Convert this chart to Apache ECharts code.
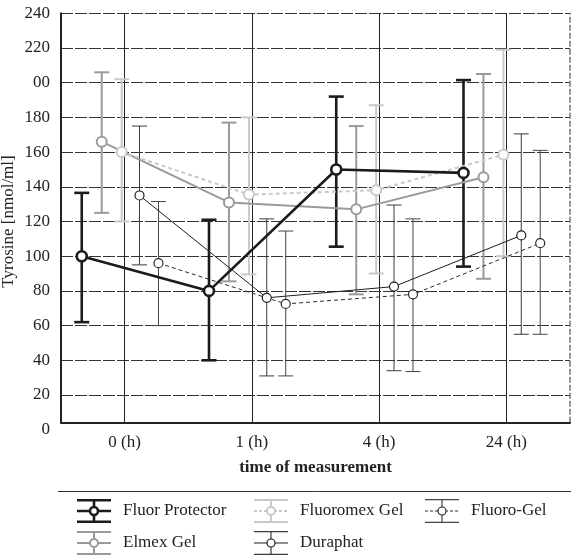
<!DOCTYPE html>
<html>
<head>
<meta charset="utf-8">
<script src="https://cdn.jsdelivr.net/npm/echarts@6/dist/echarts.min.js"></script>
<style>
  html, body { margin: 0; padding: 0; background: #fff; }
  #chart { width: 571px; height: 557px; }
</style>
</head>
<body>
<div id="chart"></div>
<script>
const categories = ["0 (h)", "1 (h)", "4 (h)", "24 (h)"];
const yTickLabels = ["0", "20", "40", "60", "80", "100", "120", "140", "160", "180", "00", "220", "240"];

const seriesNames = ["Fluor Protector", "Elmex Gel", "Fluoromex Gel", "Duraphat", "Fluoro-Gel"];

const fluorProtectorMean = [100, 80, 150, 148];
const fluorProtectorLow = [62, 40, 105.5, 94];
const fluorProtectorHigh = [136.5, 121, 192, 201.5];

const elmexMean = [166, 131, 127, 145.5];
const elmexLow = [125, 85.5, 78, 87];
const elmexHigh = [206, 177, 175, 205];

const fluoromexMean = [160, 135.5, 138, 158.5];
const fluoromexLow = [120, 89.5, 90, 100];
const fluoromexHigh = [202, 180, 187, 219];

const duraphatMean = [135, 76, 82.5, 112];
const duraphatLow = [95, 31, 34, 55];
const duraphatHigh = [175, 121.5, 129.5, 170.5];

const fluoroGelMean = [96, 72.5, 78, 107.5];
const fluoroGelLow = [60, 31, 33.5, 55];
const fluoroGelHigh = [131.5, 114.5, 121.5, 161];

// horizontal dodge of each series inside a category band (band units)
const dodge = [-0.337, -0.18, -0.023, 0.117, 0.266];

const styles = [
    { color: "#1b1b1b", bar: "#1b1b1b", width: 2.6, dashed: false, size: 10 },
    { color: "#9a9a9a", bar: "#9a9a9a", width: 2, dashed: false, size: 10 },
    { color: "#c9c9c9", bar: "#c9c9c9", width: 2, dashed: true, size: 10 },
    { color: "#1e1e1e", bar: "#3a3a3a", width: 1, dashed: false, size: 9 },
    { color: "#2a2a2a", bar: "#444444", width: 1, dashed: true, size: 9 },
];

const means = [fluorProtectorMean, elmexMean, fluoromexMean, duraphatMean, fluoroGelMean];
const lows = [fluorProtectorLow, elmexLow, fluoromexLow, duraphatLow, fluoroGelLow];
const highs = [fluorProtectorHigh, elmexHigh, fluoromexHigh, duraphatHigh, fluoroGelHigh];

const serif = "Liberation Serif";
const fontSize = 17;

function legendIcon(st) {
    const w = Math.max(st.width, 1.2);
    const dash = st.dashed ? ' stroke-dasharray="3,2"' : "";
    const svg =
        '<svg xmlns="http://www.w3.org/2000/svg" width="41" height="24" viewBox="0 0 41 24">' +
        '<g stroke="' + st.bar + '" stroke-width="' + w + '" fill="none">' +
        '<line x1="0" y1="' + (w / 2) + '" x2="34" y2="' + (w / 2) + '"/>' +
        '<line x1="0" y1="' + (24 - w / 2) + '" x2="34" y2="' + (24 - w / 2) + '"/>' +
        '<line x1="17" y1="0" x2="17" y2="24"/>' +
        '</g>' +
        '<line x1="0" y1="12" x2="34" y2="12" stroke="' + st.color + '" stroke-width="' + w + '"' + dash + '/>' +
        '<circle cx="17" cy="12" r="4" fill="#fff" stroke="' + st.color + '" stroke-width="' + w + '"/>' +
        '</svg>';
    return "image://data:image/svg+xml;charset=utf-8," + encodeURIComponent(svg);
}

function errorBars(st) {
    const cap = 7.5;
    return function (params, api) {
        const x = api.value(0);
        const lo = api.coord([x, api.value(1)]);
        const hi = api.coord([x, api.value(2)]);
        const style = { stroke: st.bar, lineWidth: st.width, fill: null };
        return {
            type: "group",
            children: [
                { type: "line", shape: { x1: lo[0], y1: lo[1], x2: hi[0], y2: hi[1] }, style },
                { type: "line", shape: { x1: hi[0] - cap, y1: hi[1], x2: hi[0] + cap, y2: hi[1] }, style },
                { type: "line", shape: { x1: lo[0] - cap, y1: lo[1], x2: lo[0] + cap, y2: lo[1] }, style },
            ],
        };
    };
}

const series = [];
seriesNames.forEach((name, s) => {
    const st = styles[s];
    series.push({
        name,
        type: "custom",
        xAxisIndex: 0,
        yAxisIndex: 0,
        z: 2,
        silent: true,
        renderItem: errorBars(st),
        data: categories.map((c, i) => [i + dodge[s], lows[s][i], highs[s][i]]),
    });
    series.push({
        name,
        type: "line",
        xAxisIndex: 0,
        yAxisIndex: 0,
        z: 3 + (s === 0 ? 2 : 0),
        symbol: "circle",
        symbolSize: st.size,
        showAllSymbol: true,
        lineStyle: { color: st.color, width: st.width, type: st.dashed ? [4, 3] : "solid" },
        itemStyle: { color: "#ffffff", borderColor: st.color, borderWidth: Math.max(st.width, 1.2) },
        emphasis: { disabled: true },
        data: categories.map((c, i) => [i + dodge[s], means[s][i]]),
    });
});

const legendBase = {
    orient: "vertical",
    top: 499,
    padding: 0,
    itemGap: 8,
    itemWidth: 41,
    itemHeight: 24,
    selectedMode: false,
    textStyle: { fontFamily: serif, fontSize: fontSize, color: "#222" },
};
const legendItem = (name) => ({ name, icon: legendIcon(styles[seriesNames.indexOf(name)]) });

const chart = echarts.init(document.getElementById("chart"));
chart.setOption({
    animation: false,
    backgroundColor: "#fff",
    grid: [
        { left: 61, right: 1, top: 13.3, bottom: 127.3, outerBoundsMode: "none", containLabel: false },
        { left: 61, right: 1, top: 13.3, bottom: 134.7, outerBoundsMode: "none", containLabel: false },
    ],
    legend: [
        Object.assign({}, legendBase, { left: 77, data: ["Fluor Protector", "Elmex Gel"].map(legendItem) }),
        Object.assign({}, legendBase, { left: 254, data: ["Fluoromex Gel", "Duraphat"].map(legendItem) }),
        Object.assign({}, legendBase, { left: 425, data: ["Fluoro-Gel"].map(legendItem) }),
    ],
    xAxis: [
        { type: "value", gridIndex: 0, min: -0.5, max: 3.5, show: false },
        {
            type: "category",
            gridIndex: 1,
            position: "bottom",
            data: categories,
            axisLine: { lineStyle: { color: "#222", width: 2 } },
            axisTick: { show: false },
            axisLabel: { fontFamily: serif, fontSize: fontSize, color: "#222", margin: 12 },
            splitLine: { show: true, alignWithLabel: true, interval: 0, lineStyle: { color: "#222", width: 1 } },
            name: "time of measurement",
            nameLocation: "middle",
            nameGap: 36.5,
            nameMoveOverlap: false,
            nameTextStyle: { fontFamily: serif, fontSize: fontSize, fontWeight: "bold", color: "#222" },
        },
        {
            type: "category",
            gridIndex: 1,
            position: "top",
            data: categories,
            axisLine: { lineStyle: { color: "#222", width: 1 } },
            axisTick: { show: false },
            axisLabel: { show: false },
            splitLine: { show: false },
        },
    ],
    yAxis: [
        {
            type: "value",
            gridIndex: 0,
            min: 0,
            max: 240,
            interval: 20,
            axisLine: { show: false },
            axisTick: { show: false },
            axisLabel: {
                fontFamily: serif,
                fontSize: fontSize,
                color: "#222",
                margin: 11,
                formatter: (v) => yTickLabels[Math.round(v / 20)],
            },
            splitLine: { show: true, showMinLine: false, lineStyle: { color: "#333", width: 1, type: [12, 2] } },
            name: "Tyrosine [nmol/ml]",
            nameLocation: "middle",
            nameGap: 44,
            nameMoveOverlap: false,
            nameTextStyle: { fontFamily: serif, fontSize: fontSize, color: "#222" },
        },
        {
            type: "value",
            gridIndex: 1,
            position: "left",
            min: 0,
            max: 1,
            axisLine: { show: true, lineStyle: { color: "#222", width: 2 } },
            axisTick: { show: false },
            axisLabel: { show: false },
            splitLine: { show: false },
        },
        {
            type: "value",
            gridIndex: 1,
            position: "right",
            min: 0,
            max: 1,
            axisLine: { show: true, lineStyle: { color: "#777", width: 1.5, type: [5, 3] } },
            axisTick: { show: false },
            axisLabel: { show: false },
            splitLine: { show: false },
        },
    ],
    graphic: [
        {
            type: "line",
            shape: { x1: 58, y1: 491.5, x2: 571, y2: 491.5 },
            style: { stroke: "#333", lineWidth: 1 },
        },
    ],
    series,
});
window.addEventListener("resize", () => chart.resize());
</script>
</body>
</html>
